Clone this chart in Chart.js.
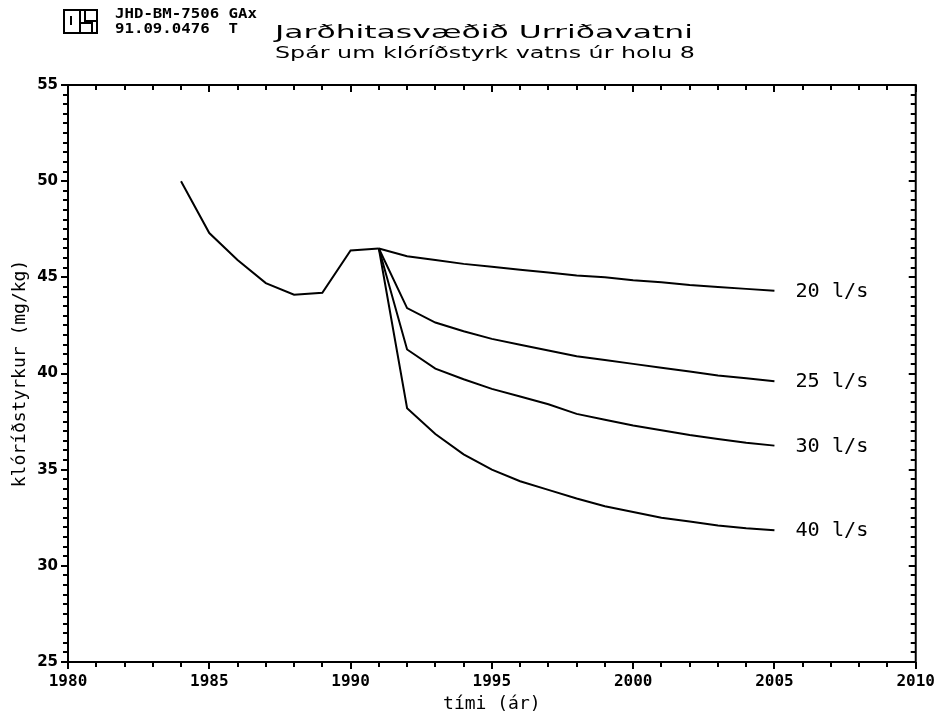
<!DOCTYPE html>
<html>
<head>
<meta charset="utf-8">
<title>Jarðhitasvæðið Urriðavatni</title>
<script src="https://cdn.jsdelivr.net/npm/chart.js@4.4.1/dist/chart.umd.min.js"></script>
<style>
  html, body { margin: 0; padding: 0; background: #fff; }
  #wrap { width: 945px; height: 715px; }
</style>
</head>
<body>
<div id="wrap"><canvas id="chlorideChart" width="945" height="715"></canvas></div>
<script>
// measured history, hola 8
const histYears = [1984, 1985, 1986, 1987, 1988, 1989, 1990, 1991];
const histChloride = [50.0, 47.3, 45.9, 44.7, 44.1, 44.2, 46.4, 46.5];

// forecasts from 1991 for different production rates
const forecastYears = [1991, 1992, 1993, 1994, 1995, 1996, 1997, 1998, 1999, 2000, 2001, 2002, 2003, 2004, 2005];
const rate20 = [46.5, 46.1, 45.9, 45.7, 45.55, 45.4, 45.25, 45.1, 45.0, 44.85, 44.75, 44.6, 44.5, 44.4, 44.3];
const rate25 = [46.5, 43.4, 42.65, 42.2, 41.8, 41.5, 41.2, 40.9, 40.7, 40.5, 40.3, 40.1, 39.9, 39.75, 39.6];
const rate30 = [46.5, 41.25, 40.25, 39.7, 39.2, 38.8, 38.4, 37.9, 37.6, 37.3, 37.05, 36.8, 36.6, 36.4, 36.25];
const rate40 = [46.5, 38.2, 36.85, 35.8, 35.0, 34.4, 33.95, 33.5, 33.1, 32.8, 32.5, 32.3, 32.1, 31.95, 31.85];
const rateLabels = ['20 l/s', '25 l/s', '30 l/s', '40 l/s'];

const xMin = 1980, xMax = 2010;
const yMin = 25, yMax = 55;

const mono = '"DejaVu Sans Mono", monospace';
const sans = '"DejaVu Sans", sans-serif';

function toPoints(xs, ys) {
    return xs.map((x, i) => ({ x: x, y: ys[i] }));
}

function lineSet(label, data) {
    return {
        label: label,
        data: data,
        borderColor: '#000',
        borderWidth: 2,
        pointRadius: 0,
        fill: false,
        tension: 0
    };
}

// draw text stretched to a given width (plotter lettering is wide)
function stretchText(ctx, text, x, y, font, width) {
    ctx.save();
    ctx.font = font;
    const w = ctx.measureText(text).width;
    ctx.translate(x, y);
    ctx.scale(width / w, 1);
    ctx.fillText(text, 0, 0);
    ctx.restore();
    return width / w;
}

// frame, tick marks, rate labels and header
const plotterDecor = {
    id: 'plotterDecor',
    afterDraw(chart) {
        const ctx = chart.ctx;
        const a = chart.chartArea;
        const xs = chart.scales.x;
        const ys = chart.scales.y;
        ctx.save();
        ctx.strokeStyle = '#000';
        ctx.fillStyle = '#000';

        // frame
        ctx.lineWidth = 2;
        ctx.strokeRect(a.left, a.top, a.right - a.left, a.bottom - a.top);

        // tick marks
        ctx.beginPath();
        for (let yr = xMin; yr <= xMax; yr++) {
            const px = Math.round(xs.getPixelForValue(yr));
            const len = yr % 5 === 0 ? 7 : 5;
            ctx.moveTo(px, a.bottom);
            ctx.lineTo(px, a.bottom + len);
            ctx.moveTo(px, a.top);
            ctx.lineTo(px, a.top + len);
        }
        for (let v = yMin * 2; v <= yMax * 2; v++) {
            const py = Math.round(ys.getPixelForValue(v / 2));
            const len = v % 10 === 0 ? 7 : 5;
            ctx.moveTo(a.left, py);
            ctx.lineTo(a.left - len, py);
            ctx.moveTo(a.right, py);
            ctx.lineTo(a.right - len, py);
        }
        ctx.stroke();

        // rate labels at the end of each forecast line
        ctx.font = '19px ' + mono;
        ctx.textBaseline = 'middle';
        ctx.textAlign = 'left';
        const lastX = forecastYears[forecastYears.length - 1];
        [rate20, rate25, rate30, rate40].forEach((arr, i) => {
            const px = xs.getPixelForValue(lastX) + 21;
            const py = ys.getPixelForValue(arr[arr.length - 1]) + 1;
            stretchText(ctx, rateLabels[i], px, py, '19px ' + mono, 73);
        });

        // logo
        ctx.lineWidth = 2;
        ctx.strokeRect(64, 10, 33, 23);
        ctx.beginPath();
        ctx.moveTo(80, 10); ctx.lineTo(80, 33);
        ctx.moveTo(71, 16); ctx.lineTo(71, 25);
        ctx.moveTo(85, 10); ctx.lineTo(85, 21); ctx.lineTo(97, 21);
        ctx.moveTo(80, 23); ctx.lineTo(92, 23); ctx.lineTo(92, 33);
        ctx.stroke();

        // drawing number
        ctx.textBaseline = 'alphabetic';
        const sx = stretchText(ctx, 'JHD-BM-7506 GAx', 115, 18, 'bold 14px ' + mono, 142);
        ctx.save();
        ctx.font = 'bold 14px ' + mono;
        ctx.translate(115, 33);
        ctx.scale(sx, 1);
        ctx.fillText('91.09.0476  T', 0, 0);
        ctx.restore();

        // titles
        stretchText(ctx, 'Jarðhitasvæðið Urriðavatni', 275, 38, '18px ' + sans, 418);
        stretchText(ctx, 'Spár um klóríðstyrk vatns úr holu 8', 275, 58, '15px ' + sans, 420);

        ctx.restore();
    }
};

const ctx = document.getElementById('chlorideChart').getContext('2d');
const chart = new Chart(ctx, {
    type: 'line',
    data: {
        datasets: [
            lineSet('maelt', toPoints(histYears, histChloride)),
            lineSet(rateLabels[0], toPoints(forecastYears, rate20)),
            lineSet(rateLabels[1], toPoints(forecastYears, rate25)),
            lineSet(rateLabels[2], toPoints(forecastYears, rate30)),
            lineSet(rateLabels[3], toPoints(forecastYears, rate40))
        ]
    },
    options: {
        responsive: false,
        animation: false,
        devicePixelRatio: 1,
        layout: { padding: { top: 85, right: 23, left: 0, bottom: 0 } },
        plugins: {
            legend: { display: false },
            tooltip: { enabled: false },
            title: { display: false }
        },
        scales: {
            x: {
                type: 'linear',
                min: xMin,
                max: xMax,
                afterFit(scale) { scale.height = 53; },
                grid: { display: false, drawTicks: false },
                border: { display: false },
                ticks: {
                    stepSize: 5,
                    padding: 10,
                    color: '#000',
                    font: { family: mono, size: 16, weight: 'bold' },
                    maxRotation: 0,
                    callback: v => String(v)
                },
                title: {
                    display: true,
                    text: 'tími (ár)',
                    color: '#000',
                    font: { family: mono, size: 18 },
                    padding: { top: 0, bottom: 0 }
                }
            },
            y: {
                type: 'linear',
                min: yMin,
                max: yMax,
                afterFit(scale) { scale.width = 68; },
                grid: { display: false, drawTicks: false },
                border: { display: false },
                ticks: {
                    stepSize: 5,
                    padding: 10,
                    color: '#000',
                    font: { family: sans, size: 15, weight: 'bold' }
                },
                title: {
                    display: true,
                    text: 'klóríðstyrkur (mg/kg)',
                    color: '#000',
                    font: { family: mono, size: 18 },
                    padding: { top: 10, bottom: 0 }
                }
            }
        }
    },
    plugins: [plotterDecor]
});
</script>
</body>
</html>
